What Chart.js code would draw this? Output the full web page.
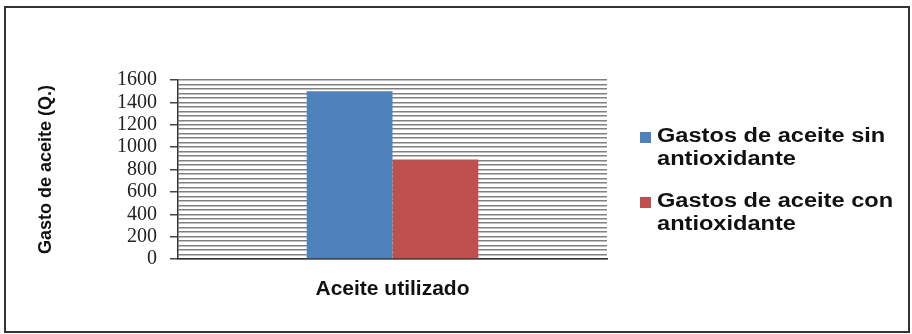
<!DOCTYPE html>
<html>
<head>
<meta charset="utf-8">
<script src="https://cdn.jsdelivr.net/npm/chart.js@4.4.1/dist/chart.umd.min.js"></script>
<style>
  html, body { margin: 0; padding: 0; background: #fff; }
  #wrap { width: 912px; height: 334px; }
</style>
</head>
<body>
<div id="wrap"><canvas id="chart" width="912" height="334"></canvas></div>
<script>
const categories = ["Aceite utilizado"];
const sinAntioxidante = [1500];
const conAntioxidante = [890];
const seriesNames = [
  ["Gastos de aceite sin", "antioxidante"],
  ["Gastos de aceite con", "antioxidante"],
];
const seriesColors = ["#4f81bd", "#c0504d"];

// frame + two-line legend drawn on canvas
const extras = {
  id: "extras",
  afterDraw(chart) {
    const ctx = chart.ctx;
    ctx.save();
    ctx.strokeStyle = "#333";
    ctx.lineWidth = 2;
    ctx.strokeRect(5, 7, 904, 325);

    const tops = [136, 201];
    chart.data.datasets.forEach((ds, i) => {
      const y = tops[i];
      ctx.fillStyle = ds.backgroundColor;
      ctx.fillRect(640, y - 4, 11, 11);
      ctx.fillStyle = "#111";
      ctx.font = "bold 20px 'Liberation Sans', Arial, sans-serif";
      ctx.textBaseline = "middle";
      seriesNames[i].forEach((line, j) => {
        ctx.save();
        ctx.translate(657, y + j * 23.5);
        ctx.scale(1.18, 1);
        ctx.fillText(line, 0, 0);
        ctx.restore();
      });
    });
    ctx.restore();
  }
};

new Chart(document.getElementById("chart").getContext("2d"), {
  type: "bar",
  data: {
    labels: categories,
    datasets: [
      {
        label: seriesNames[0].join(" "),
        data: sinAntioxidante,
        backgroundColor: seriesColors[0],
        categoryPercentage: 0.4,
        barPercentage: 1,
      },
      {
        label: seriesNames[1].join(" "),
        data: conAntioxidante,
        backgroundColor: seriesColors[1],
        categoryPercentage: 0.4,
        barPercentage: 1,
      },
    ],
  },
  plugins: [extras],
  options: {
    responsive: false,
    animation: false,
    layout: { padding: { top: 80, right: 305, left: 0, bottom: 0 } },
    plugins: {
      legend: { display: false },
      tooltip: { enabled: false },
    },
    scales: {
      x: {
        ticks: { display: false },
        grid: { display: false },
        border: { display: true, color: "#333", width: 1.5 },
        afterFit(scale) { scale.height = 75; },
        title: {
          display: true,
          text: "Aceite utilizado",
          color: "#111",
          font: { family: "'Liberation Sans', Arial, sans-serif", size: 21, weight: "bold" },
          padding: { top: 0, bottom: 32 },
        },
      },
      y: {
        min: 0,
        max: 1600,
        afterFit(scale) { scale.width = 178; },
        ticks: {
          stepSize: 40,
          autoSkip: false,
          color: "#222",
          padding: 13,
          font: { family: "'Liberation Serif', 'Times New Roman', serif", size: 20 },
          callback: (v) => (v % 200 === 0 ? v : ""),
        },
        grid: {
          color: "#808080",
          lineWidth: 1.5,
          tickLength: 8,
          tickColor: (c) => (c.tick && c.tick.value % 200 === 0 ? "#444" : "rgba(0,0,0,0)"),
        },
        border: { display: true, color: "#333", width: 1.5 },
        title: {
          display: true,
          text: "Gasto de aceite (Q.)",
          color: "#111",
          font: { family: "'Liberation Sans', Arial, sans-serif", size: 18, weight: "bold" },
          padding: { top: 35, bottom: 0 },
        },
      },
    },
  },
});
</script>
</body>
</html>
